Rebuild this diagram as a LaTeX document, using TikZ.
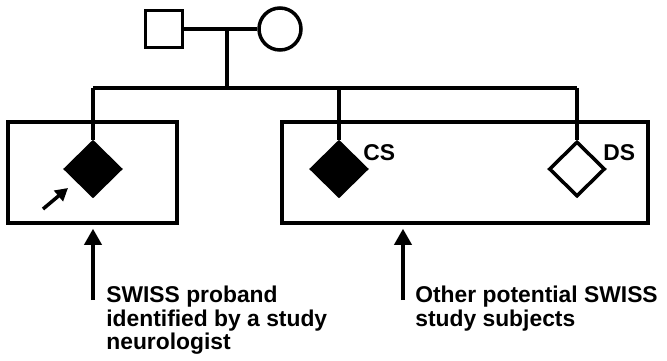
\documentclass[tikz,border=0pt]{standalone}
\usepackage{fontspec}
\setmainfont{Liberation Sans}
\usetikzlibrary{shapes.geometric, arrows.meta}

\tikzset{
  person/.style={draw, line width=2pt, inner sep=0pt},
  child/.style={person, diamond, minimum width=1.12cm, minimum height=1.1cm},
  studybox/.style={draw, line width=2pt, inner sep=0pt, minimum height=2.02cm},
  pedline/.style={line width=2pt},
  bigarrow/.style={line width=2pt, -{Triangle[length=0.32cm, width=0.34cm]}, shorten >=0.08cm},
  smallarrow/.style={line width=2pt, -{Triangle[length=0.25cm, width=0.27cm]}},
  lbl/.style={font=\fontsize{13}{13.3}\selectfont\bfseries, inner sep=0pt},
}

\begin{document}
\begin{tikzpicture}[x=0.02cm, y=-0.02cm]
\useasboundingbox (0,0) rectangle (667,360);

% eltern
\node[person, rectangle, minimum size=0.74cm] (father) at (164,29) {};
\node[person, circle, minimum size=0.84cm] (mother) at (280,29) {};
\draw[pedline] (father.east) -- (mother.west);
\coordinate (couple) at (227,29);
\coordinate (sibs) at (227,88);
\draw[pedline] (couple) -- (sibs);

% kaestchen
\node[studybox, minimum width=3.38cm] (probandbox) at (92.5,172.5) {};
\node[studybox, minimum width=7.32cm] (otherbox) at (465,172.5) {};

% kinder
\node[child, fill=black] (proband) at (93,169) {};
\node[child, fill=black] (cs) at (339,169) {};
\node[child, fill=white] (ds) at (577,169) {};
\draw[pedline] (proband |- sibs) -- (ds |- sibs);
\foreach \k in {proband, cs, ds}
  \draw[pedline] (\k |- sibs) -- (\k.north);

\node[lbl, anchor=west] (cslbl) at (363,153) {CS};
\node[lbl, anchor=west] (dslbl) at (603,153) {DS};

% probandenpfeil
\coordinate (pointer) at (43,209);
\draw[smallarrow] (pointer) -- (68,188);

% beschriftungen
\node[lbl, anchor=north west, align=left] (probandnote) at (106,286)
  {SWISS proband\\identified by a study\\neurologist};
\node[lbl, anchor=north west, align=left] (othernote) at (415,286)
  {Other potential SWISS\\study subjects};
\coordinate (probandfoot) at (93,300);
\coordinate (otherfoot) at (403,300);
\draw[bigarrow] (probandfoot) -- (probandfoot |- probandbox.south);
\draw[bigarrow] (otherfoot) -- (otherfoot |- otherbox.south);
\end{tikzpicture}
\end{document}
